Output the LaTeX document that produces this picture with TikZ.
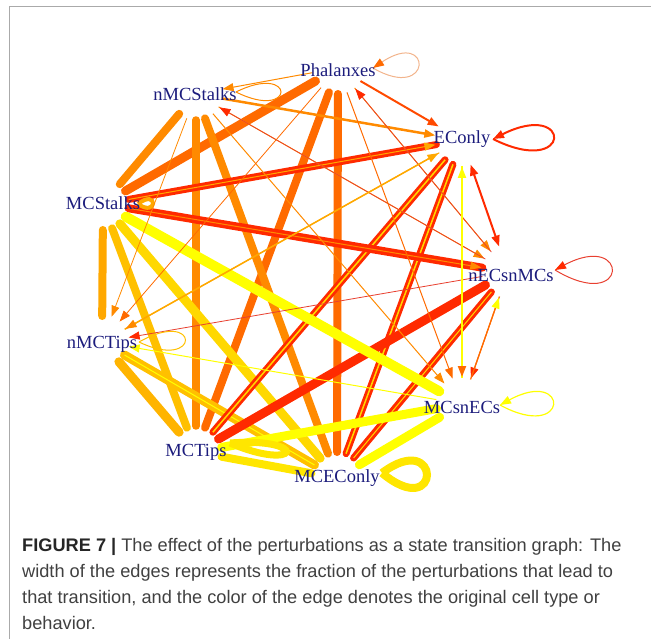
\documentclass[tikz,border=0pt]{standalone}
\usepackage{fontspec}
\setmainfont{Liberation Serif}
\newfontfamily\capfont{Liberation Sans}
\usetikzlibrary{arrows.meta}
\definecolor{cRed}{HTML}{FF2A00}
\definecolor{cRedO}{HTML}{FF4A00}
\definecolor{cOrR}{HTML}{FF6A00}
\definecolor{cOr}{HTML}{FF8A00}
\definecolor{cAmb}{HTML}{FFA800}
\definecolor{cGold}{HTML}{FFC000}
\definecolor{cGoldB}{HTML}{FFB400}
\definecolor{cYG}{HTML}{FFD800}
\definecolor{cYL}{HTML}{FFE600}
\definecolor{cYel}{HTML}{FFFF00}
\definecolor{cThinRed}{HTML}{E84030}
\definecolor{cLbl}{HTML}{1C1C7C}
\definecolor{cFrame}{HTML}{AAAAAA}
\definecolor{cCap}{HTML}{404040}
\definecolor{cPeach}{HTML}{F2B48C}
\tikzset{
  fat/.style={line width=#1, line cap=round, shorten <=26pt, shorten >=26pt},
  slim/.style={line width=#1, shorten <=26pt, shorten >=27pt},
  tip/.style={-{Triangle[length=11pt,width=8pt,color=#1]}},
  lbl/.style={text=cLbl, font=\fontsize{18.5}{21}\selectfont, inner sep=0pt},
  capline/.style={anchor=base west, text=cCap, inner sep=0pt, font=\capfont\fontsize{18.2}{22}\selectfont},
}
\begin{document}
\begin{tikzpicture}[x=1pt,y=-1pt]
\useasboundingbox (0,0) rectangle (651,639);
\draw[cFrame, line width=1.5pt] (9.5,639) -- (9.5,6.5) -- (651,6.5);
% vertex centres
\coordinate (vP) at (338,68);
\coordinate (vS) at (196,94);
\coordinate (vE) at (462,140);
\coordinate (vMS) at (103,204);
\coordinate (vN) at (508,272);
\coordinate (vT) at (102,342);
\coordinate (vC) at (462,404);
\coordinate (vMT) at (196,452);
\coordinate (vME) at (337,478);
% loop anchors
\coordinate (lP) at (373,68);
\coordinate (lS) at (236,92);
\coordinate (lE) at (493,139);
\coordinate (lN) at (555,270);
\coordinate (lC) at (500,405);
\coordinate (lME) at (382,473);
\coordinate (lMT) at (230,443);
\coordinate (lT) at (139,342);
\coordinate (lMS) at (138,204);
% thick edges
\draw[fat=9pt, cOrR] (vP) -- (vMS);
\draw[fat=8pt, cOrR] (vP) -- (vMT);
\draw[fat=8pt, cOrR] (vP) -- (vME);
\draw[fat=8pt, cOr] (vS) -- (vMS);
\draw[fat=7.5pt, cOr] (vS) -- (vMT);
\draw[fat=8pt, cOr] (vS) -- (vME);
\draw[fat=8pt, cAmb] (vMS) -- (vT);
\draw[fat=8pt, cGold] (vMS) -- (vMT);
\draw[fat=9pt, cYG] (vMS) -- (vME);
\draw[fat=9pt, cGoldB] (vT) -- (vMT);
\draw[fat=9pt, cGold] (vT) -- (vME);
\draw[line width=1pt, cYel, shorten <=26pt, shorten >=26pt] (vT) -- (vME);
\draw[fat=7pt, cRed] (vE) -- (vMT);
\draw[line width=1.5pt, cYG, shorten <=26pt, shorten >=26pt] (vE) -- (vMT);
\draw[fat=7pt, cRed] (vE) -- (vME);
\draw[line width=1.5pt, cYG, shorten <=26pt, shorten >=26pt] (vE) -- (vME);
\draw[fat=9pt, cRed] (vN) -- (vMT);
\draw[fat=7pt, cRed] (vN) -- (vME);
\draw[line width=1pt, cYG, shorten <=26pt, shorten >=26pt] (vN) -- (vME);
\draw[fat=7pt, cRed] (vMS) -- (vE);
\draw[fat=8pt, cRed] (vMS) -- (vN);
\draw[fat=10pt, cYel] (vMS) -- (vC);
\draw[fat=9pt, cYel] (vMT) -- (vC);
\draw[fat=9pt, cYel] (vME) -- (vC);
\draw[fat=8pt, cYL] (vMT) -- (vME);
% thick loops
\draw[line width=7pt, cYL] (lMT) .. controls +(80,-6) and +(70,30) .. (lMT);
\draw[line width=8pt, cYL] (lME) .. controls +(60,-45) and +(60,50) .. (lME);
\draw[line width=4pt, cAmb] (lMS) .. controls +(20,-16) and +(20,14) .. (lMS);
% thin edges
\draw[slim=1pt, cAmb, tip=cAmb] (vMS) -- (vE);
\draw[slim=1pt, cOr, tip=cOr] (vMS) -- (vN);
\draw[slim=1pt, cOr, tip=cOr] (vP) -- (vS);
\draw[slim=2pt, cRedO, tip=cRedO] (vP) -- (vE);
\draw[slim=2.5pt, cOr, tip=cOr] (vS) -- (vE);
\draw[slim=1pt, cOr, tip=cOr] (vP) -- (vN);
\draw[slim=0.7pt, cThinRed, tip=cRed] (vN) -- (vP);
\draw[slim=1pt, cOr, tip=cOr] (vS) -- (vN);
\draw[slim=0.7pt, cThinRed, tip=cRed] (vN) -- (vS);
\draw[slim=1pt, cOrR, tip=cOrR] (vP) -- (vC);
\draw[slim=1pt, cOr, tip=cOr] (vS) -- (vC);
\draw[slim=0.8pt, cOrR, tip=cOrR] (vP) -- (vT);
\draw[slim=0.8pt, cOr, tip=cOr] (vS) -- (vT);
\draw[slim=1.5pt, cAmb, tip=cAmb] (vT) -- (vE);
\draw[slim=1pt, cAmb, tip=cOr] (vE) -- (vT);
\draw[slim=0.8pt, cThinRed, tip=cRed] (vN) -- (vT);
\draw[slim=1pt, cYel, tip=cYel] (vC) -- (vT);
\draw[slim=2pt, cRed, {Triangle[length=11pt,width=8pt]}-{Triangle[length=11pt,width=8pt]}] (vE) -- (vN);
\draw[slim=2pt, cYel, tip=cYel] (vC) -- (vE);
\draw[slim=2pt, cYel, tip=cOrR] (vE) -- (vC);
\draw[slim=1.2pt, cOrR, tip=cRed] (vN) -- (vC);
\draw[slim=1.2pt, cOrR, tip=cYel] (vC) -- (vN);
% thin loops
\draw[line width=1pt, cPeach, tip=cOrR] (lP) .. controls +(60,35) and +(60,-40) .. (lP);
\draw[line width=1pt, cOr] (lS) .. controls +(60,-30) and +(60,30) .. (lS);
\draw[line width=2pt, cRed, tip=cRed] (lE) .. controls +(80,40) and +(80,-40) .. (lE);
\draw[line width=1pt, cThinRed, tip=cRed] (lN) .. controls +(75,45) and +(75,-40) .. (lN);
\draw[line width=1.2pt, cYel, tip=cYel] (lC) .. controls +(70,38) and +(70,-38) .. (lC);
\draw[line width=1pt, cGold] (lT) .. controls +(62,-35) and +(62,30) .. (lT);
% labels
\node[lbl] (Phalanxes) at (338,70) {Phalanxes};
\node[lbl] (nMCStalks) at (195,94) {nMCStalks};
\node[lbl] (EConly) at (462,139) {EConly};
\node[lbl] (MCStalks) at (103,203) {MCStalks};
\node[lbl] (nECsnMCs) at (511,275) {nECsnMCs};
\node[lbl] (nMCTips) at (102,344) {nMCTips};
\node[lbl] (MCsnECs) at (462,407) {MCsnECs};
\node[lbl] (MCTips) at (196,452) {MCTips};
\node[lbl] (MCEConly) at (337,478) {MCEConly};
% caption
\node[capline] (c1) at (22,551) {\textbf{\color{black!85}FIGURE 7 |} The effect of the perturbations as a state transition graph: The};
\node[capline] (c2) at (22,577) {width of the edges represents the fraction of the perturbations that lead to};
\node[capline] (c3) at (22,603) {that transition, and the color of the edge denotes the original cell type or};
\node[capline] (c4) at (22,629) {behavior.};
\end{tikzpicture}
\end{document}
